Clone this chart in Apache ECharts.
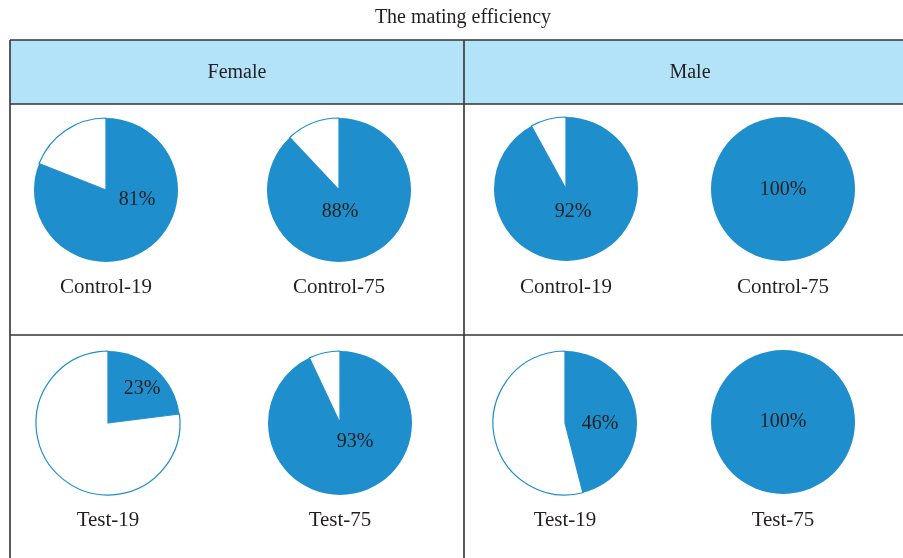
<!DOCTYPE html>
<html>
<head>
<meta charset="utf-8">
<script src="https://cdn.jsdelivr.net/npm/echarts@6/dist/echarts.min.js"></script>
<style>html,body{margin:0;padding:0;background:#fff}#c{width:903px;height:558px}</style>
</head>
<body>
<div id="c"></div>
<script>
// ---- data ----
const chartTitle = 'The mating efficiency';
const groups = ['Female', 'Male'];
const pieNames = ['Control-19', 'Control-75', 'Control-19', 'Control-75', 'Test-19', 'Test-75', 'Test-19', 'Test-75'];
const efficiency = [81, 88, 92, 100, 23, 93, 46, 100];

// ---- layout (positions only) ----
const pieCenters = [[106, 190], [339, 190], [566, 189], [783, 189], [108, 423], [340, 423], [565, 423], [783, 422]];
const labelOffsets = [[31, 10], [1, 22], [7, 23], [0, 1], [34, -34], [15, 19], [35, 1], [0, 0]];
const nameY = [287, 287, 287, 287, 520, 520, 520, 520];
const groupX = [237, 690];

const BLUE = '#1e8ecd';
const TEXT = '#231f20';
const LINE = '#333333';
const FONT = '"Liberation Serif", "DejaVu Serif", serif';

const chart = echarts.init(document.getElementById('c'), null, {renderer: 'canvas'});

const series = efficiency.map((v, i) => {
  const data = [{
    value: v, name: 'mated',
    itemStyle: {color: BLUE},
    label: {show: true, position: 'center', formatter: v + '%', offset: labelOffsets[i],
      color: TEXT, fontFamily: FONT, fontSize: 20}
  }];
  if (v < 100) {
    data.push({
      value: 100 - v, name: 'not mated',
      itemStyle: {color: '#ffffff', borderColor: BLUE, borderWidth: 1.2},
      label: {show: false}
    });
  }
  return {
    type: 'pie', name: pieNames[i], center: pieCenters[i], radius: 72,
    startAngle: 90, clockwise: true, silent: true, animation: false,
    labelLine: {show: false}, emphasis: {disabled: true},
    data: data
  };
});

const graphics = [
  {type: 'rect', shape: {x: 10, y: 40, width: 900, height: 64}, style: {fill: '#b3e3f8'}, z: 0},
  {type: 'line', shape: {x1: 10, y1: 40, x2: 910, y2: 40}, style: {stroke: LINE, lineWidth: 1.6}, z: 1},
  {type: 'line', shape: {x1: 10, y1: 104, x2: 910, y2: 104}, style: {stroke: LINE, lineWidth: 1.6}, z: 1},
  {type: 'line', shape: {x1: 10, y1: 335, x2: 910, y2: 335}, style: {stroke: LINE, lineWidth: 1.6}, z: 1},
  {type: 'line', shape: {x1: 10, y1: 40, x2: 10, y2: 570}, style: {stroke: LINE, lineWidth: 1.6}, z: 1},
  {type: 'line', shape: {x1: 464, y1: 40, x2: 464, y2: 570}, style: {stroke: LINE, lineWidth: 1.6}, z: 1},
  {type: 'text', x: 463, y: 18, style: {text: chartTitle, fill: TEXT, font: '20px ' + FONT, textAlign: 'center', textVerticalAlign: 'middle'}, z: 2}
];
groups.forEach((g, i) => {
  graphics.push({type: 'text', x: groupX[i], y: 73, style: {text: g, fill: TEXT, font: '20px ' + FONT, textAlign: 'center', textVerticalAlign: 'middle'}, z: 2});
});
pieNames.forEach((n, i) => {
  graphics.push({type: 'text', x: pieCenters[i][0], y: nameY[i], style: {text: n, fill: TEXT, font: '21px ' + FONT, textAlign: 'center', textVerticalAlign: 'middle'}, z: 2});
});

chart.setOption({
  backgroundColor: '#ffffff',
  animation: false,
  graphic: {elements: graphics},
  series: series
});
</script>
</body>
</html>
